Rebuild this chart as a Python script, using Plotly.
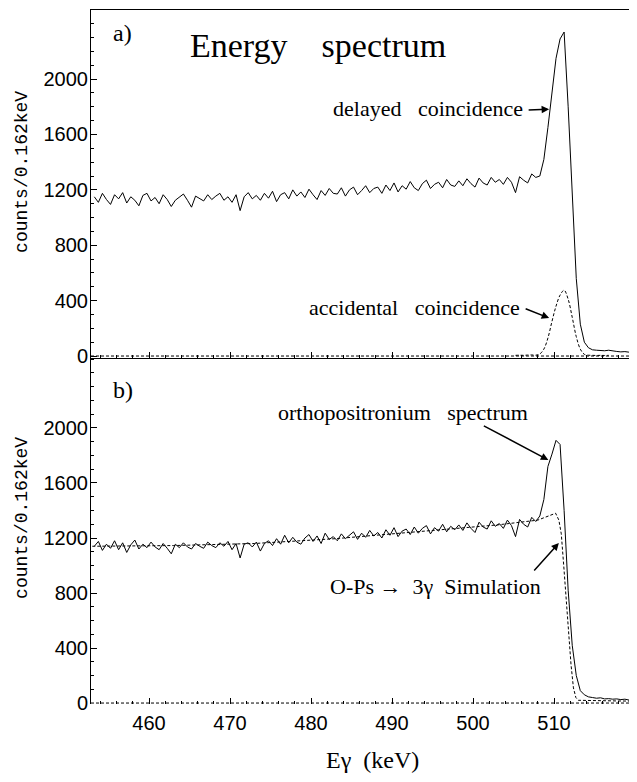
import numpy as np
import plotly.graph_objects as go
from plotly.subplots import make_subplots

# bin centres of the spectra (0.5 keV bins)
energy = np.arange(453.25, 520.0, 0.5)

# a) delayed coincidence spectrum
delayed = [
    1150, 1110, 1175, 1130, 1095, 1165, 1135, 1180, 1105, 1150,
    1125, 1085, 1160, 1175, 1120, 1145, 1100, 1165, 1130, 1080,
    1125, 1150, 1170, 1125, 1075, 1155, 1135, 1120, 1165, 1130,
    1155, 1175, 1125, 1150, 1110, 1165, 1050, 1150, 1180, 1135,
    1160, 1125, 1175, 1140, 1190, 1115, 1165, 1180, 1135, 1200,
    1155, 1185, 1145, 1205, 1165, 1130, 1195, 1160, 1210, 1175,
    1170, 1215, 1155, 1200, 1220, 1165, 1195, 1230, 1180, 1210,
    1220, 1175, 1235, 1195, 1250, 1185, 1230, 1205, 1260, 1215,
    1195, 1245, 1270, 1210, 1240, 1255, 1215, 1275, 1235, 1225,
    1265, 1230, 1280, 1245, 1220, 1285, 1250, 1235, 1290, 1255,
    1275, 1240, 1290, 1255, 1180, 1295, 1270, 1250, 1315, 1290,
    1300, 1420, 1650, 1900, 2150, 2290, 2340, 1800, 1180, 560,
    230, 100, 60, 45, 42, 40, 38, 42, 35, 33, 30, 32, 28, 28,
]

# a) accidental coincidence (bins 504.25 ... 515.75)
acc_energy = energy[104:128]
accidental = [
    5, 6, 5, 7, 8, 6, 15, 50, 130, 250, 360, 440,
    475, 410, 280, 140, 50, 12, 6, 5, 4, 5, 4, 5,
]

# b) orthopositronium spectrum
ortho = [
    1140, 1175, 1110, 1155, 1125, 1180, 1115, 1165, 1095, 1150,
    1185, 1120, 1155, 1130, 1170, 1135, 1115, 1160, 1125, 1085,
    1155, 1130, 1165, 1135, 1120, 1160, 1140, 1125, 1170, 1145,
    1130, 1165, 1140, 1175, 1115, 1160, 1055, 1155, 1165, 1135,
    1170, 1105, 1160, 1180, 1145, 1195, 1155, 1220, 1165, 1205,
    1170, 1155, 1200, 1225, 1175, 1215, 1160, 1235, 1190, 1210,
    1180, 1230, 1195, 1220, 1245, 1190, 1235, 1205, 1255, 1215,
    1240, 1200, 1260, 1220, 1275, 1210, 1250, 1265, 1225, 1280,
    1235, 1270, 1290, 1230, 1275, 1250, 1300, 1245, 1285, 1260,
    1295, 1255, 1310, 1270, 1240, 1315, 1280, 1265, 1325, 1285,
    1305, 1270, 1330, 1290, 1210, 1335, 1300, 1280, 1350, 1320,
    1360, 1480, 1720, 1810, 1910, 1880, 1400, 820, 420, 200,
    90, 60, 45, 40, 35, 38, 30, 32, 28, 30, 25, 28, 22, 25,
]

# b) O-Ps -> 3 gamma simulation
sim_energy = [453, 463, 473, 483, 493, 503, 508, 509, 510.2, 510.6, 510.9,
              511.2, 511.5, 511.8, 512.1, 512.4, 512.7, 513.0, 514, 516, 518, 520]
simulation = [1140, 1145, 1160, 1195, 1245, 1295, 1330, 1355, 1380, 1330, 1230,
              1000, 760, 510, 280, 110, 40, 20, 18, 15, 15, 14]

serif = "Liberation Serif"
sans = "Liberation Sans"

fig = make_subplots(rows=2, cols=1, shared_xaxes=True, vertical_spacing=0,
                    row_heights=[0.5014, 0.4986])

line = dict(color="black", width=1)
dashed = dict(color="black", width=1, dash="3px,2px")

fig.add_trace(go.Scatter(x=acc_energy, y=accidental, mode="lines", line=dashed,
                         line_shape="spline"), row=1, col=1)
fig.add_trace(go.Scatter(x=energy, y=delayed, mode="lines", line=line), row=1, col=1)
fig.add_trace(go.Scatter(x=sim_energy, y=simulation, mode="lines", line=dashed),
              row=2, col=1)
fig.add_trace(go.Scatter(x=energy, y=ortho, mode="lines", line=line), row=2, col=1)

xr = [452.84, 520.0]
xcommon = dict(range=xr, showgrid=False, zeroline=False, ticks="inside", ticklen=6,
               tickcolor="black", tick0=460, dtick=10, linecolor="black",
               automargin=False,
               minor=dict(ticks="inside", dtick=2, ticklen=3, tickcolor="black"))
fig.update_xaxes(showline=True, mirror=True, showticklabels=False, row=1, col=1, **xcommon)
fig.update_xaxes(showline=False, showticklabels=True, row=2, col=1,
                 tickfont=dict(family=sans, size=20, color="black"),
                 ticklabelstandoff=5, **xcommon)

ycommon = dict(showgrid=False, zeroline=False, showline=True, mirror=True,
               linecolor="black", ticks="inside", ticklen=6, tickcolor="black",
               tickvals=[0, 400, 800, 1200, 1600, 2000], automargin=False,
               minor=dict(ticks="inside", dtick=100, ticklen=3, tickcolor="black"),
               tickfont=dict(family=sans, size=20, color="black"),
               ticklabelstandoff=-2)
fig.update_yaxes(range=[-14, 2499], row=1, col=1, **ycommon)
fig.update_yaxes(range=[-7, 2509], row=2, col=1, **ycommon)

# dashed zero lines
for yref, xref in [("y", "x"), ("y2", "x2")]:
    fig.add_shape(type="line", x0=xr[0], x1=xr[1], y0=0, y1=0, xref=xref, yref=yref,
                  line=dashed)

def note(text, x, y, xref, yref, size=22, xanchor="center"):
    fig.add_annotation(text=text, x=x, y=y, xref=xref, yref=yref, showarrow=False,
                       xanchor=xanchor, yanchor="middle",
                       font=dict(family=serif, size=size, color="black"))

def arrow(x, y, ax, ay, xref, yref, size=1):
    fig.add_annotation(text="", x=x, y=y, ax=ax, ay=ay, xref=xref, yref=yref,
                       showarrow=True, arrowhead=2, arrowsize=size, arrowwidth=1.5,
                       arrowcolor="black")

sp = "&nbsp;&nbsp;&nbsp;"
note("a)", 456.7, 2332, "x", "y", size=24)
note("Energy" + sp + "&nbsp;spectrum", 480.9, 2245, "x", "y", size=34)
note("delayed" + sp + "coincidence", 506.4, 1790, "x", "y", xanchor="right")
arrow(509.4, 1783, -22, 1, "x", "y")
note("accidental" + sp + "coincidence", 506.0, 354, "x", "y", xanchor="right")
arrow(509.4, 274, -25, -10, "x", "y")

note("b)", 456.8, 2276, "x2", "y2", size=24)
note("orthopositronium" + sp + "spectrum", 507.0, 2116, "x2", "y2", xanchor="right")
arrow(509.3, 1767, -66, -35, "x2", "y2")
note("O-Ps →&nbsp;&nbsp;3γ&nbsp;&nbsp;Simulation", 508.6, 844, "x2", "y2", xanchor="right")
arrow(510.6, 1164, -26, 29, "x2", "y2")

# axis titles
for yc in [0.7666, 0.268]:
    fig.add_annotation(text="counts/0.162keV", x=-0.127, y=yc, xref="paper", yref="paper",
                       textangle=-90, showarrow=False, xanchor="center", yanchor="middle",
                       font=dict(family="Liberation Mono", size=18, color="black"))
fig.add_annotation(text="Eγ&nbsp;&nbsp;(keV)", x=0.518, y=-0.0807, xref="paper", yref="paper",
                   showarrow=False, xanchor="center", yanchor="middle",
                   font=dict(family=serif, size=24, color="black"))

# the page body adds an 8 px offset, so the figure is 8 px smaller
fig.update_layout(width=629, height=774, showlegend=False,
                  margin=dict(l=83, r=2, t=2, b=78),
                  paper_bgcolor="white", plot_bgcolor="white")

fig.write_html("out.html")
